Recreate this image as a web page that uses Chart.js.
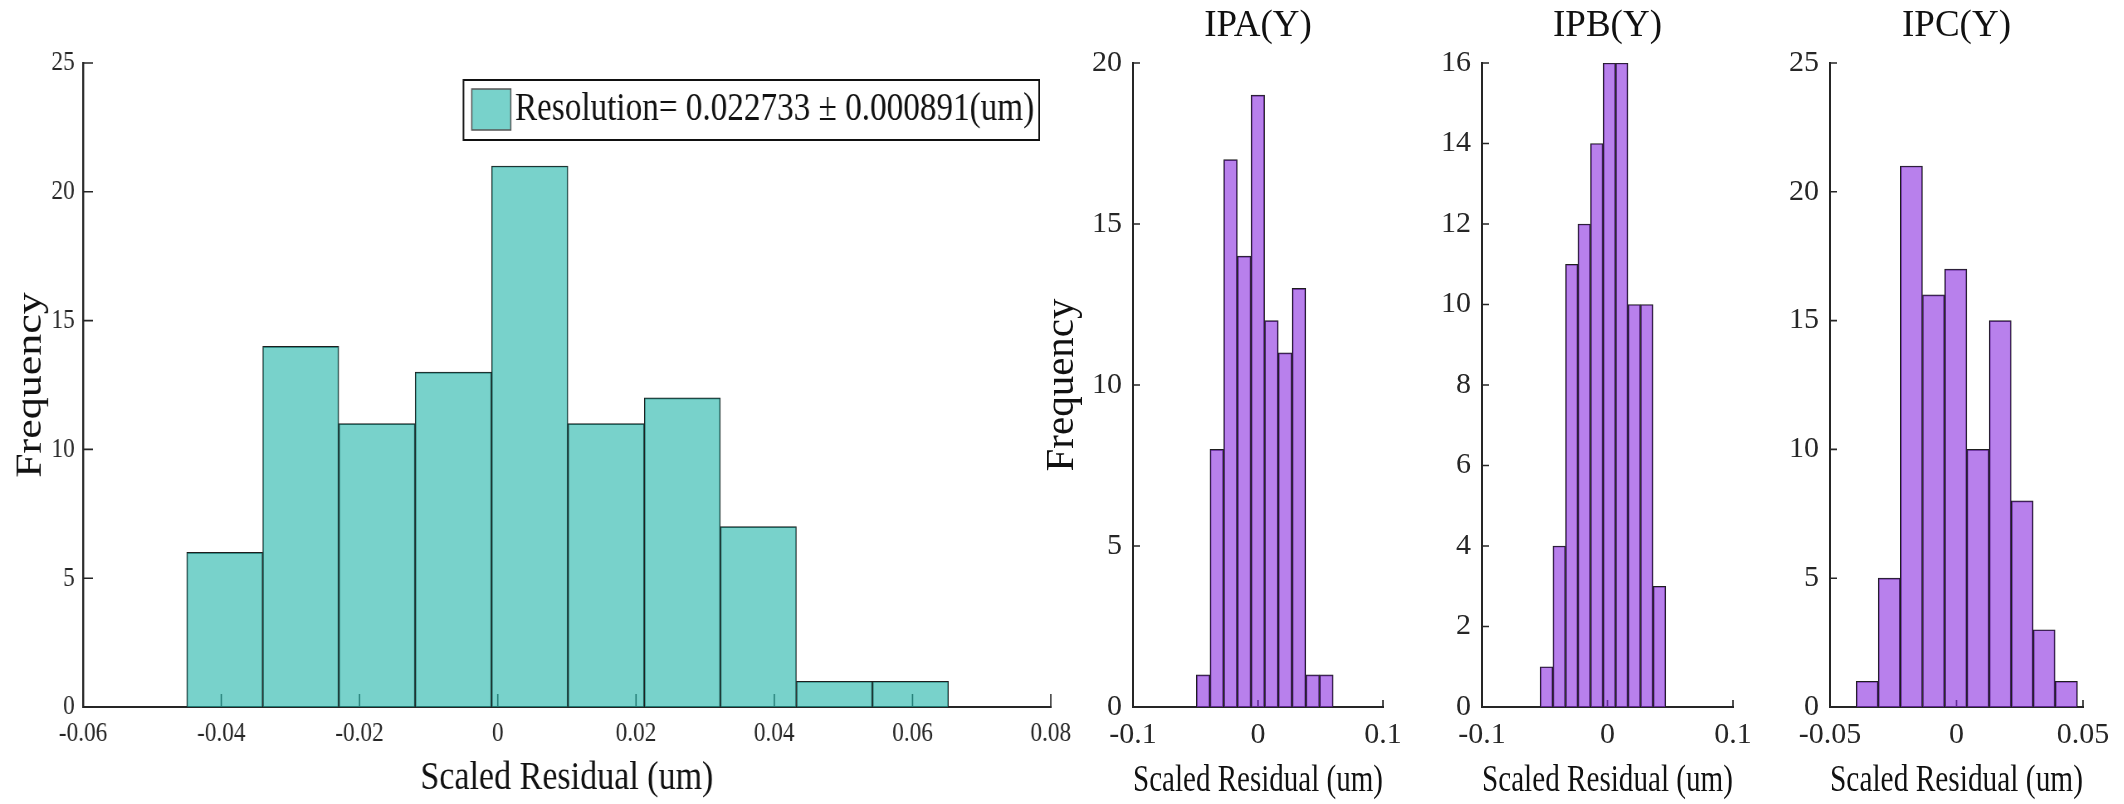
<!DOCTYPE html>
<html lang="en">
<head>
    <meta charset="UTF-8">
    <title>Scaled Residual Histograms</title>
    <script src="https://cdn.jsdelivr.net/npm/chart.js"></script>
    <style>
        html, body { margin: 0; padding: 0; background: #fff; overflow: hidden; }
        body { width: 2124px; height: 804px; position: relative; }
        .panel { position: absolute; top: 0; transform-origin: 0 0; }
        .panel canvas { display: block; }
    </style>
</head>
<body>
    <div class="panel"><canvas id="mainChart"></canvas></div>
    <div class="panel"><canvas id="ipaChart"></canvas></div>
    <div class="panel"><canvas id="ipbChart"></canvas></div>
    <div class="panel"><canvas id="ipcChart"></canvas></div>

    <script>
        // Combined residuals (left panel), bin centres and counts
        const mainCenters = [-0.0395, -0.0285, -0.0175, -0.0064, 0.0046, 0.0157, 0.0267, 0.0377, 0.0487, 0.0597];
        const mainCounts = [6, 14, 11, 13, 21, 11, 12, 7, 1, 1];
        const mainXTicks = [-0.06, -0.04, -0.02, 0, 0.02, 0.04, 0.06, 0.08];
        const mainYTicks = [0, 5, 10, 15, 20, 25];
        const legendLabel = 'Resolution= 0.022733 \u00b1 0.000891(um)';

        // IPA(Y)
        const ipaCenters = [-0.0439, -0.0330, -0.0220, -0.0110, -0.0001, 0.0107, 0.0217, 0.0328, 0.0438, 0.0547];
        const ipaCounts = [1, 8, 17, 14, 19, 12, 11, 13, 1, 1];
        const ipaXTicks = [-0.1, 0, 0.1];
        const ipaYTicks = [0, 5, 10, 15, 20];

        // IPB(Y)
        const ipbCenters = [-0.0486, -0.0384, -0.0285, -0.0186, -0.0085, 0.0015, 0.0114, 0.0213, 0.0313, 0.0414];
        const ipbCounts = [1, 4, 11, 12, 14, 16, 16, 10, 10, 3];
        const ipbXTicks = [-0.1, 0, 0.1];
        const ipbYTicks = [0, 2, 4, 6, 8, 10, 12, 14, 16];

        // IPC(Y)
        const ipcCenters = [-0.0353, -0.0266, -0.0178, -0.0091, -0.0003, 0.0085, 0.0173, 0.0260, 0.0346, 0.0434];
        const ipcCounts = [1, 5, 21, 16, 17, 10, 15, 8, 3, 1];
        const ipcXTicks = [-0.05, 0, 0.05];
        const ipcYTicks = [0, 5, 10, 15, 20, 25];

        const xTitle = 'Scaled Residual (um)';
        const yTitle = 'Frequency';

        const ink = '#262626';
        const teal = 'rgba(30, 180, 168, 0.6)';
        const purple = 'rgba(136, 43, 224, 0.6)';
        const edge = '#1e1e1e';

        Chart.defaults.font.family = "'Liberation Serif', 'Times New Roman', serif";
        Chart.defaults.color = ink;

        const fmt = v => String(Number(Number(v).toFixed(3)));

        // MATLAB style ticks pointing into the axes
        const inwardTicks = {
            id: 'inwardTicks',
            beforeDatasetsDraw(chart, args, opts) {
                const { ctx, chartArea: a, scales: { x, y } } = chart;
                ctx.save();
                ctx.strokeStyle = ink;
                ctx.lineWidth = opts.width;
                ctx.beginPath();
                x.ticks.forEach(t => {
                    const px = x.getPixelForValue(t.value);
                    ctx.moveTo(px, a.bottom);
                    ctx.lineTo(px, a.bottom - opts.xLen);
                });
                y.ticks.forEach(t => {
                    const py = y.getPixelForValue(t.value);
                    ctx.moveTo(a.left, py);
                    ctx.lineTo(a.left + opts.yLen, py);
                });
                ctx.stroke();
                ctx.restore();
            }
        };

        // boxed legend in the top right corner of the plot area
        const boxLegend = {
            id: 'boxLegend',
            afterDatasetsDraw(chart, args, opts) {
                if (!opts.show) return;
                const { ctx, chartArea: a } = chart;
                const ds = chart.data.datasets[0];
                ctx.save();
                ctx.font = '40px ' + Chart.defaults.font.family;
                const tw = ctx.measureText(ds.label).width;
                const h = 60, sw = 47, sh = 41;
                const w = 10 + sw + 5 + tw + 6;
                const bx = a.right - 14 - w, by = a.top + 17;
                ctx.fillStyle = '#fff';
                ctx.fillRect(bx, by, w, h);
                ctx.strokeStyle = '#111';
                ctx.lineWidth = 2;
                ctx.strokeRect(bx, by, w, h);
                ctx.fillStyle = ds.backgroundColor;
                ctx.fillRect(bx + 10, by + 9, sw, sh);
                ctx.strokeStyle = '#555';
                ctx.lineWidth = 1.5;
                ctx.strokeRect(bx + 10, by + 9, sw, sh);
                ctx.fillStyle = '#111';
                ctx.textBaseline = 'alphabetic';
                ctx.textAlign = 'left';
                ctx.fillText(ds.label, bx + 10 + sw + 5, by + 40);
                ctx.restore();
            }
        };

        function histogram(canvasId, spec) {
            const sx = spec.squeeze || 1;
            const pad = 100;
            const canvas = document.getElementById(canvasId);
            canvas.width = Math.round((spec.axisRight - spec.axisLeft) / sx) + 2 * pad;
            canvas.height = 804;
            const wrap = canvas.parentNode;
            wrap.style.left = (spec.axisLeft - pad * sx) + 'px';
            wrap.style.transform = 'scaleX(' + sx + ')';

            return new Chart(canvas, {
                type: 'bar',
                data: {
                    datasets: [{
                        label: spec.label || '',
                        data: spec.centers.map((c, i) => ({ x: c, y: spec.counts[i] })),
                        backgroundColor: spec.color,
                        borderColor: edge,
                        borderWidth: 1,
                        barThickness: 'flex',
                        barPercentage: 1,
                        categoryPercentage: 1
                    }]
                },
                options: {
                    responsive: false,
                    animation: false,
                    events: [],
                    layout: { padding: { left: 0, right: pad, top: 0, bottom: 0 } },
                    plugins: {
                        legend: { display: false },
                        tooltip: { enabled: false },
                        inwardTicks: { xLen: spec.tickLen[0], yLen: spec.tickLen[1], width: 1.6 },
                        boxLegend: { show: !!spec.label }
                    },
                    scales: {
                        x: {
                            type: 'linear',
                            min: spec.xRange[0],
                            max: spec.xRange[1],
                            offset: false,
                            grid: { display: false, drawTicks: false, offset: false },
                            border: { display: true, color: ink, width: 2 },
                            afterBuildTicks: s => { s.ticks = spec.xTicks.map(v => ({ value: v })); },
                            afterFit: s => { s.height = 97; },
                            ticks: {
                                font: { size: spec.tickSize },
                                color: ink,
                                padding: 10,
                                maxRotation: 0,
                                autoSkip: false,
                                callback: v => fmt(v)
                            },
                            title: {
                                display: true,
                                text: xTitle,
                                color: '#111',
                                font: { size: spec.xTitleSize },
                                padding: { top: 0, bottom: spec.xTitlePad }
                            }
                        },
                        // empty top axis that only carries the panel title
                        x2: {
                            type: 'linear',
                            position: 'top',
                            min: spec.xRange[0],
                            max: spec.xRange[1],
                            offset: false,
                            grid: { display: false, drawTicks: false },
                            border: { display: false },
                            ticks: { display: false },
                            afterFit: s => { s.height = 63; },
                            title: {
                                display: !!spec.title,
                                text: spec.title || '',
                                color: '#111',
                                font: { size: 37 },
                                padding: { top: 3.8, bottom: 0 }
                            }
                        },
                        y: {
                            min: 0,
                            max: spec.yTicks[spec.yTicks.length - 1],
                            grid: { display: false, drawTicks: false },
                            border: { display: true, color: ink, width: 2 / sx },
                            afterBuildTicks: s => { s.ticks = spec.yTicks.map(v => ({ value: v })); },
                            afterFit: s => { s.width = pad; },
                            ticks: {
                                font: { size: spec.tickSize },
                                color: ink,
                                padding: spec.yTickPad,
                                callback: v => fmt(v)
                            },
                            title: {
                                display: !!spec.yLabel,
                                text: yTitle,
                                color: '#111',
                                font: { size: spec.yTitleSize || 41 },
                                padding: { top: spec.yTitlePad || 0, bottom: 0 }
                            }
                        }
                    }
                },
                plugins: [inwardTicks, boxLegend]
            });
        }

        histogram('mainChart', {
            squeeze: 0.83, axisLeft: 83, axisRight: 1051,
            centers: mainCenters, counts: mainCounts, color: teal, label: legendLabel,
            xRange: [-0.06, 0.08], xTicks: mainXTicks, yTicks: mainYTicks,
            tickSize: 28, xTitleSize: 41, xTitlePad: 1.4, yTickPad: 10,
            yLabel: true, yTitleSize: 44, yTitlePad: 10.9, tickLen: [13, 12]
        });

        histogram('ipaChart', {
            axisLeft: 1133, axisRight: 1383, title: 'IPA(Y)',
            centers: ipaCenters, counts: ipaCounts, color: purple,
            xRange: [-0.1, 0.1], xTicks: ipaXTicks, yTicks: ipaYTicks,
            tickSize: 30, xTitleSize: 38, xTitlePad: 0, yTickPad: 11,
            yLabel: true, yTitleSize: 41, yTitlePad: 4.9, tickLen: [7, 7]
        });

        histogram('ipbChart', {
            axisLeft: 1482, axisRight: 1733, title: 'IPB(Y)',
            centers: ipbCenters, counts: ipbCounts, color: purple,
            xRange: [-0.1, 0.1], xTicks: ipbXTicks, yTicks: ipbYTicks,
            tickSize: 30, xTitleSize: 38, xTitlePad: 0, yTickPad: 11,
            yLabel: false, tickLen: [7, 7]
        });

        histogram('ipcChart', {
            axisLeft: 1830, axisRight: 2083, title: 'IPC(Y)',
            centers: ipcCenters, counts: ipcCounts, color: purple,
            xRange: [-0.05, 0.05], xTicks: ipcXTicks, yTicks: ipcYTicks,
            tickSize: 30, xTitleSize: 38, xTitlePad: 0, yTickPad: 11,
            yLabel: false, tickLen: [7, 7]
        });
    </script>
</body>
</html>
